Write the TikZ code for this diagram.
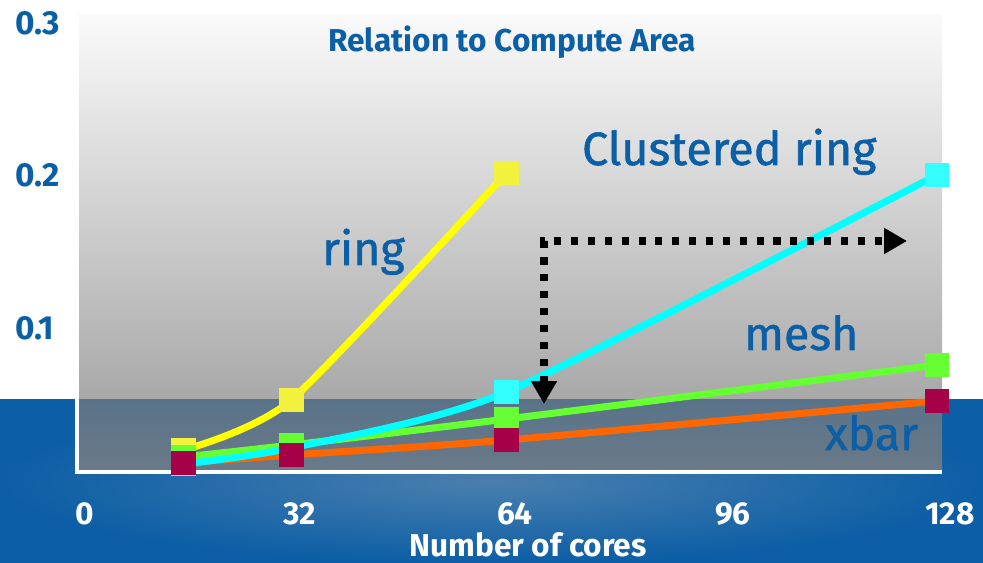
\documentclass[tikz,border=0pt]{standalone}
\usepackage{fontspec}
\setmainfont{Fira Sans}
\newfontfamily\labelfont[FakeBold=1.2]{Fira Sans}
\usepackage{tikz}
\usetikzlibrary{arrows.meta}
\usepackage{xcolor}

\definecolor{chartblue}{HTML}{0B5FA6}
\definecolor{bandblue}{HTML}{0C5EA6}
\definecolor{bandglow}{HTML}{4A7FAE}
\definecolor{lowtop}{HTML}{5A7389}
\definecolor{lowbot}{HTML}{6A7A88}
\definecolor{ringline}{HTML}{FFFF00}
\definecolor{ringmark}{HTML}{F2F23C}
\definecolor{clustline}{HTML}{00FFFF}
\definecolor{clustmark}{HTML}{33FFFF}
\definecolor{meshline}{HTML}{66FF33}
\definecolor{xbarline}{HTML}{FF6600}
\definecolor{xbarmark}{HTML}{A50048}

\begin{document}
\begin{tikzpicture}[
  x=0.02cm, y=0.02cm,
  >={Triangle[length=13pt,width=14pt]},
  ylab/.style={anchor=base west, inner sep=1pt, text=chartblue, font=\bfseries\fontsize{19}{21}\selectfont},
  xlab/.style={anchor=base, inner sep=0pt, text=white, font=\bfseries\fontsize{18}{20}\selectfont},
  series/.style={anchor=base west, inner sep=1pt, text=chartblue, font=\labelfont\fontsize{26.5}{30}\selectfont},
  curve/.style={line width=4pt, line join=round, line cap=round},
  sqbox/.style={minimum size=14pt, inner sep=0pt, draw=none},
  dotarrow/.style={<->, line width=4pt, dash pattern=on 4pt off 5.6pt}
]
  \useasboundingbox (0,0) rectangle (983,563);
  \shade[inner color=bandglow, outer color=bandblue] (0,0) rectangle (983,163);
  \shade[top color=white!98!black, bottom color=black!34] (77,163) rectangle (942,548);
  \shade[top color=lowtop, bottom color=lowbot] (77,91) rectangle (942,163);
  \draw[white, line width=2pt] (77,548) -- (77,91) -- (942,91);

  \node[anchor=base, inner sep=1pt, text=chartblue, font=\bfseries\fontsize{18}{20}\selectfont] (title) at (512,511) {Relation to Compute Area};
  \node[ylab] (y3) at (13,528) {0.3};
  \node[ylab] (y2) at (13,376) {0.2};
  \node[ylab] (y1) at (13,223) {0.1};
  \foreach \t/\px in {0/85, 32/300, 64/515, 96/733, 128/950}
    \node[xlab] (x\t) at (\px,38) {\t};
  \node[xlab] (xtitle) at (528,6) {Number of cores};

  \begin{scope}[shift={(76,82)}, x=0.13453cm, y=30.6cm]
    \foreach \c/\v [count=\i] in {16/0.0203, 32/0.0529, 64/0.2013}
      \coordinate (ring\i) at (\c,\v);
    \foreach \c/\v [count=\i] in {16/0.0111, 32/0.0216, 64/0.0582, 128/0.2}
      \coordinate (clust\i) at (\c,\v);
    \foreach \c/\v [count=\i] in {16/0.0157, 32/0.0235, 64/0.0405, 128/0.0758}
      \coordinate (mesh\i) at (\c,\v);
    \foreach \c/\v [count=\i] in {16/0.0118, 32/0.017, 64/0.0268, 128/0.0523}
      \coordinate (xbar\i) at (\c,\v);

    \draw[curve, xbarline] plot[smooth] coordinates {(xbar1) (xbar2) (xbar3) (xbar4)};
    \draw[curve, meshline] plot[smooth] coordinates {(mesh1) (mesh2) (mesh3) (mesh4)};
    \draw[curve, clustline] plot[smooth, tension=0.4] coordinates {(clust1) (clust2) (clust3) (clust4)};
    \draw[curve, ringline] plot[smooth, tension=0.4] coordinates {(ring1) (ring2) (ring3)};

    \foreach \i in {1,2,3}
      \node[sqbox, fill=ringmark] (ringsq\i) at (ring\i) {};
    \foreach \i in {1,...,4}
      \node[sqbox, fill=clustmark] (clustsq\i) at (clust\i) {};
    \foreach \i in {1,...,4}
      \node[sqbox, fill=meshline] (meshsq\i) at (mesh\i) {};
    \foreach \i in {1,...,4}
      \node[sqbox, fill=xbarmark] (xbarsq\i) at (xbar\i) {};
  \end{scope}

  \node[series] (ringlab) at (320,298) {ring};
  \node[series] (clustlab) at (580,398) {Clustered ring};
  \node[series] (meshlab) at (742,213) {mesh};
  \node[series] (xbarlab) at (823,113) {xbar};

  \coordinate (dropend) at (544,159);
  \coordinate (runend) at (907,322);
  \draw[dotarrow] (dropend) |- (runend);
\end{tikzpicture}
\end{document}
